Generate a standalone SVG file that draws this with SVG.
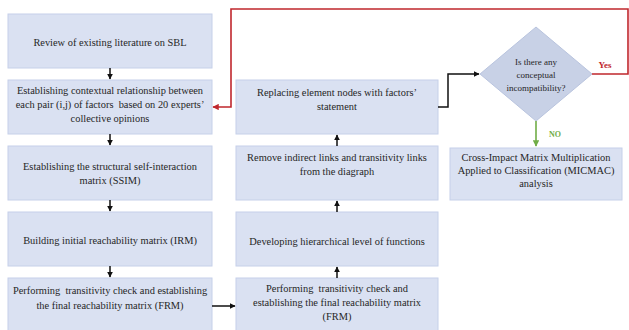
<svg xmlns="http://www.w3.org/2000/svg" width="629" height="330" viewBox="0 0 629 330">
<defs>
<style>
.box{fill:#dae1f2;stroke:#c6d0e9;stroke-width:1}
.dia{fill:#c8d1e6;stroke:#b9c4de;stroke-width:1}
.t{font-family:"Liberation Serif","Times New Roman",serif;font-size:10.4px;fill:#262626;text-anchor:middle}
.td{font-family:"Liberation Serif","Times New Roman",serif;font-size:9px;fill:#262626;text-anchor:middle}
.blk{fill:none;stroke:#111;stroke-width:1.5}
.red{fill:none;stroke:#c0272d;stroke-width:1.6}
.grn{fill:none;stroke:#70ad47;stroke-width:1.6}
</style>
<marker id="ab" viewBox="0 0 10 10" refX="9" refY="5" markerWidth="4" markerHeight="4" orient="auto"><path d="M0,0 L10,5 L0,10 z" fill="#111"/></marker>
<marker id="ar" viewBox="0 0 10 10" refX="9" refY="5" markerWidth="4" markerHeight="4" orient="auto"><path d="M0,0 L10,5 L0,10 z" fill="#c0272d"/></marker>
<marker id="ag" viewBox="0 0 10 10" refX="9" refY="5" markerWidth="4" markerHeight="4" orient="auto"><path d="M0,0 L10,5 L0,10 z" fill="#70ad47"/></marker>
</defs>
<rect width="629" height="330" fill="#ffffff"/>

<g id="n1"><rect class="box" x="8" y="14" width="204" height="54"/><text class="t" x="110" y="46">Review of existing literature on SBL</text></g>
<g id="n2"><rect class="box" x="8" y="80" width="204" height="54"/><text class="t" x="110" y="94">Establishing contextual relationship between</text><text class="t" x="110" y="108" xml:space="preserve">each pair (i,j) of factors  based on 20 experts’</text><text class="t" x="110" y="122">collective opinions</text></g>
<g id="n3"><rect class="box" x="8" y="146" width="204" height="54"/><text class="t" x="110" y="170">Establishing the structural self-interaction</text><text class="t" x="110" y="184">matrix (SSIM)</text></g>
<g id="n4"><rect class="box" x="8" y="212" width="204" height="54"/><text class="t" x="110" y="244">Building initial reachability matrix (IRM)</text></g>
<g id="n5"><rect class="box" x="8" y="278" width="204" height="54"/><text class="t" x="110" y="294" xml:space="preserve">Performing  transitivity check and establishing</text><text class="t" x="110" y="309">the final reachability matrix (FRM)</text></g>

<g id="m1"><rect class="box" x="236" y="80" width="202" height="54"/><text class="t" x="337" y="96">Replacing element nodes with factors’</text><text class="t" x="337" y="110">statement</text></g>
<g id="m2"><rect class="box" x="236" y="146" width="202" height="54"/><text class="t" x="337" y="161">Remove indirect links and transitivity links</text><text class="t" x="337" y="175">from the diagraph</text></g>
<g id="m3"><rect class="box" x="236" y="212" width="202" height="54"/><text class="t" x="337" y="245">Developing hierarchical level of functions</text></g>
<g id="m4"><rect class="box" x="236" y="278" width="202" height="54"/><text class="t" x="337" y="292" xml:space="preserve">Performing  transitivity check and</text><text class="t" x="337" y="306">establishing the final reachability matrix</text><text class="t" x="337" y="320">(FRM)</text></g>

<g id="d1"><polygon class="dia" points="480,74 536,27 592,74 536,121"/><text class="td" x="536" y="65">Is there any</text><text class="td" x="536" y="78">conceptual</text><text class="td" x="536" y="91">incompatibility?</text></g>

<g id="mic"><rect class="box" x="450" y="148" width="172" height="52"/><text class="t" x="536" y="161">Cross-Impact Matrix Multiplication</text><text class="t" x="536" y="174">Applied to Classification (MICMAC)</text><text class="t" x="536" y="187">analysis</text></g>

<g id="connectors">
<line class="blk" x1="110" y1="68" x2="110" y2="79" marker-end="url(#ab)"/>
<line class="blk" x1="110" y1="134" x2="110" y2="145" marker-end="url(#ab)"/>
<line class="blk" x1="110" y1="200" x2="110" y2="211" marker-end="url(#ab)"/>
<line class="blk" x1="110" y1="266" x2="110" y2="277" marker-end="url(#ab)"/>
<line class="blk" x1="212" y1="306" x2="235" y2="306" marker-end="url(#ab)"/>
<line class="blk" x1="337" y1="278" x2="337" y2="267" marker-end="url(#ab)"/>
<line class="blk" x1="337" y1="212" x2="337" y2="201" marker-end="url(#ab)"/>
<line class="blk" x1="337" y1="146" x2="337" y2="135" marker-end="url(#ab)"/>
<polyline class="blk" points="438,107 448,107 448,74 479,74" marker-end="url(#ab)"/>
<polyline class="red" points="592,74 628,74 628,9 231,9 231,107 213,107" marker-end="url(#ar)"/>
<line class="grn" x1="536" y1="121" x2="536" y2="146" marker-end="url(#ag)"/>
<text x="605" y="68" font-family="Liberation Serif, serif" font-size="9" font-weight="bold" fill="#c0272d" text-anchor="middle">Yes</text>
<text x="555" y="137" font-family="Liberation Serif, serif" font-size="8" font-weight="bold" fill="#70ad47" text-anchor="middle">NO</text>
</g>
</svg>
